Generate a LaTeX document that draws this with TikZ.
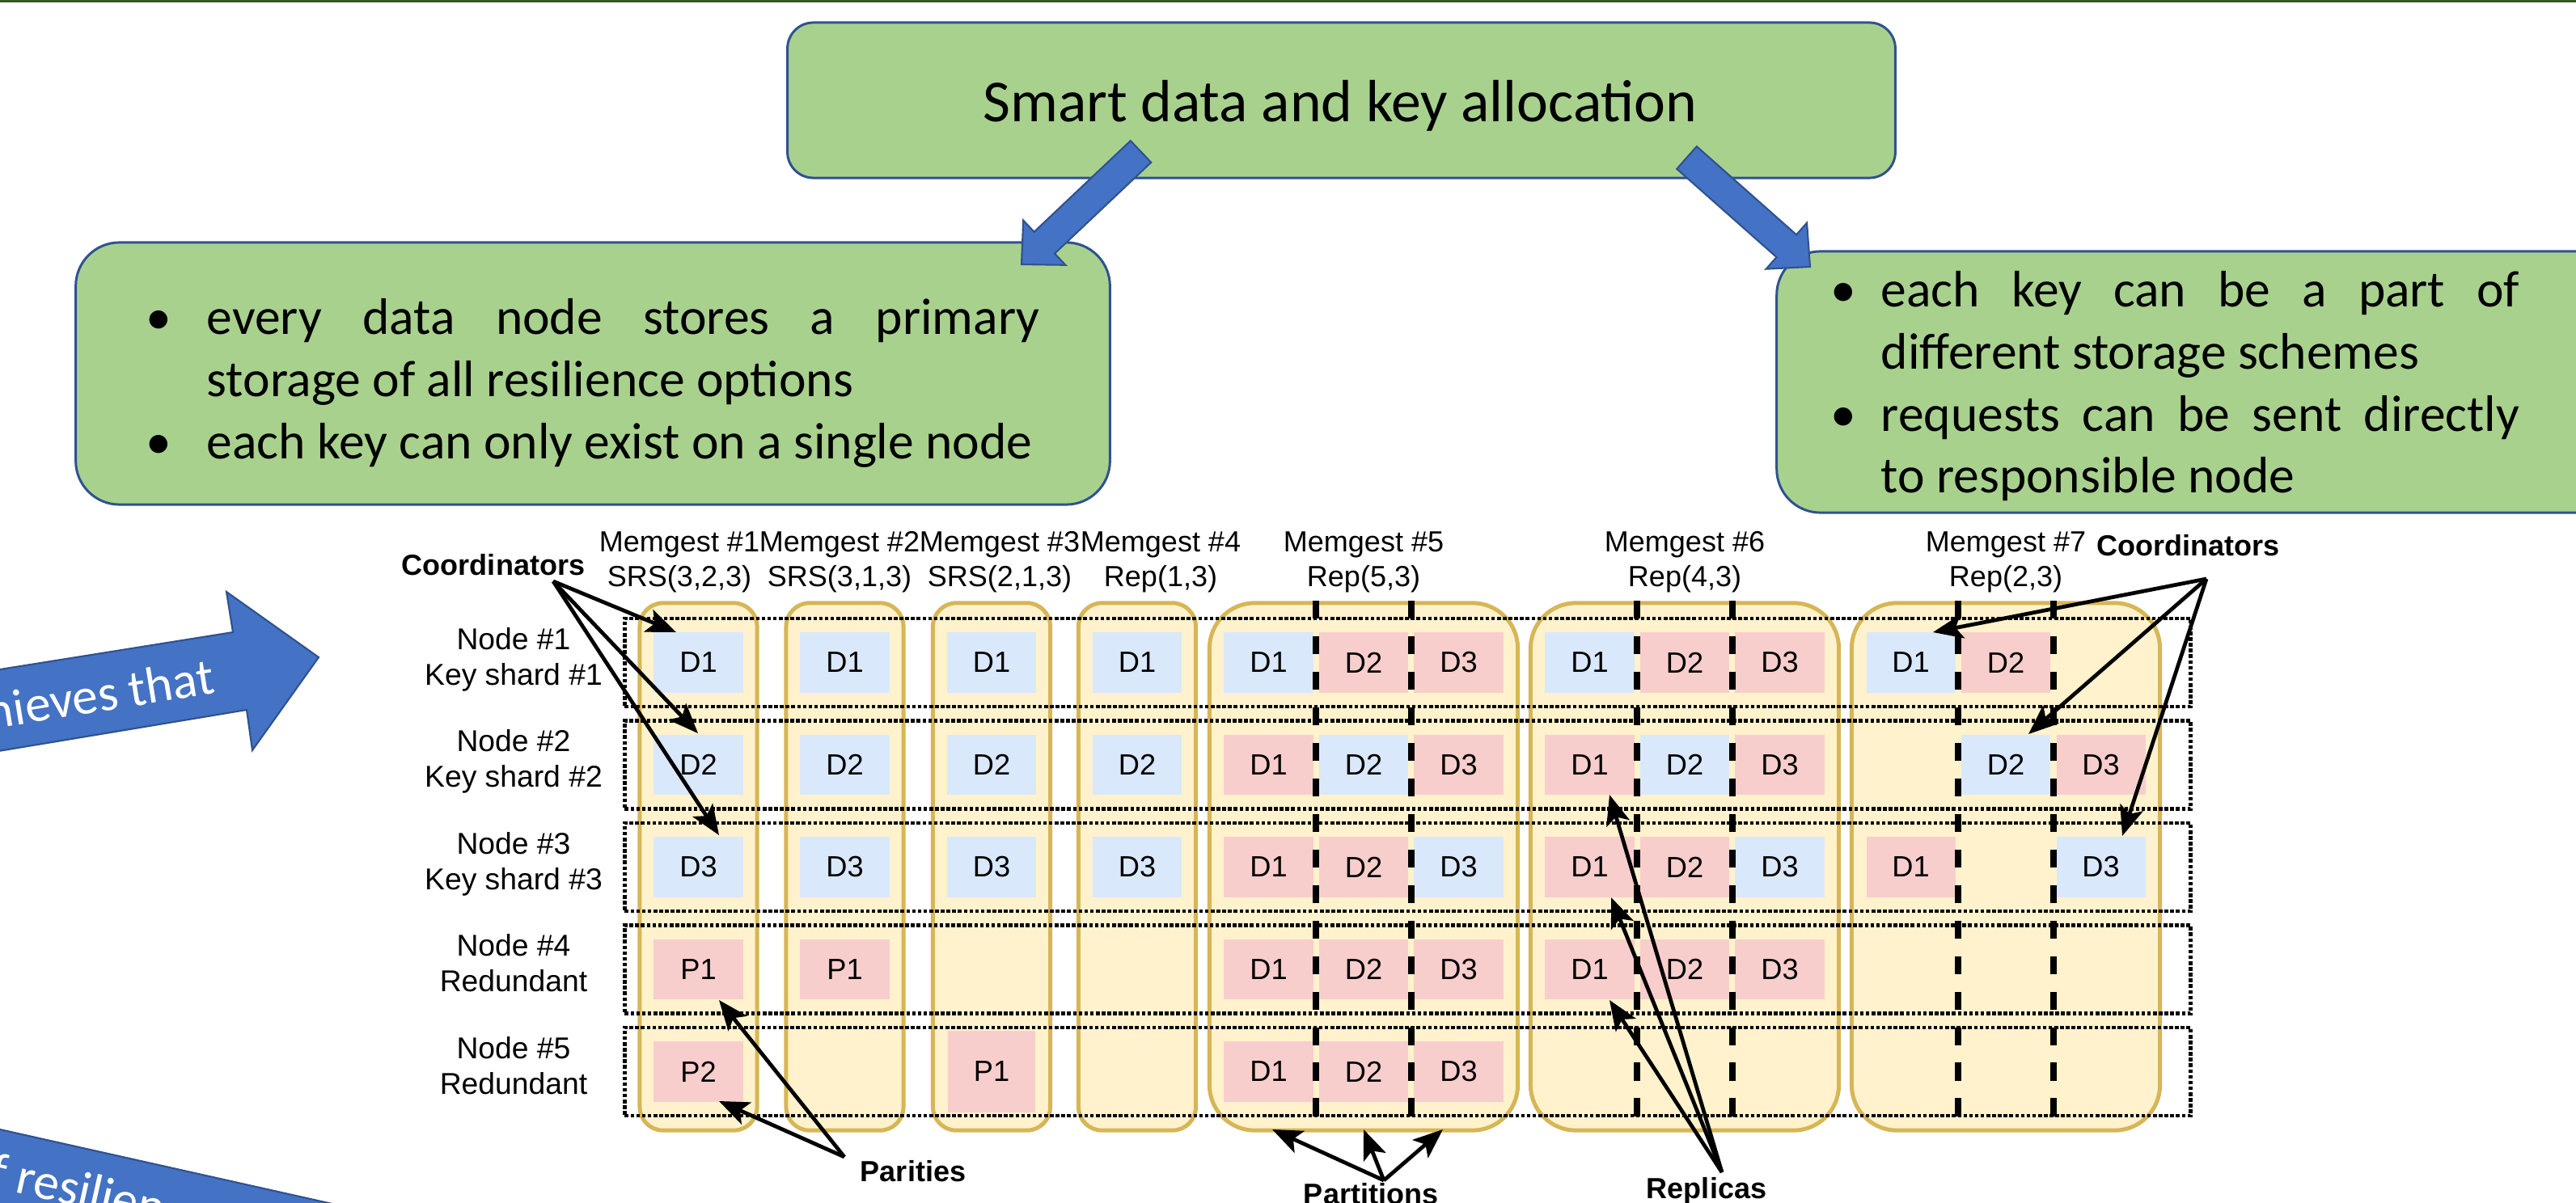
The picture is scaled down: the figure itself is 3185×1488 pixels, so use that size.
\documentclass[tikz,border=0pt]{standalone}
\usepackage{fontspec}
\setmainfont{Carlito}
\newfontfamily\helv{Liberation Sans}
\usetikzlibrary{arrows.meta}
\definecolor{topgreen}{HTML}{385723}
\definecolor{boxgreen}{HTML}{A9D18E}
\definecolor{boxborder}{HTML}{2F528F}
\definecolor{arrowblue}{HTML}{4472C4}
\definecolor{arrowborder}{HTML}{2F528F}
\definecolor{colfill}{HTML}{FFF2CC}
\definecolor{colborder}{HTML}{D6B656}
\definecolor{cellblue}{HTML}{DAE8FC}
\definecolor{cellred}{HTML}{F8CECC}
\newcommand{\titlefnt}{\fontsize{20.97pt}{25pt}\selectfont}
\newcommand{\bodyfnt}{\fontsize{18.07pt}{21.9pt}\selectfont}
\newcommand{\tabfnt}{\helv\fontsize{10.24pt}{12.3pt}\selectfont}
\newcommand{\rowfnt}{\helv\fontsize{10.6pt}{12.5pt}\selectfont}
\newcommand{\tabbold}{\helv\bfseries\fontsize{10.24pt}{12.3pt}\selectfont}
\newcommand{\cellfnt}{\helv\fontsize{10.3pt}{12pt}\selectfont}
\begin{document}
\begin{tikzpicture}[x=0.01cm,y=0.01cm,
  gbox/.style={draw=boxborder, line width=0.85pt, fill=boxgreen, inner sep=0pt},
  barrow/.style={draw=arrowborder, line width=0.6pt, fill=arrowblue},
  memcol/.style={draw=colborder, fill=colfill, line width=1.42pt, inner sep=0pt, minimum height=6.52cm},
  narrowcol/.style={memcol, minimum width=1.45cm, rounded corners=0.29cm},
  widecol/.style={memcol, minimum width=3.81cm, rounded corners=0.56cm},
  rowbox/.style={draw=black, line width=1.35pt, dash pattern=on 1.3pt off 0.72pt, minimum width=19.35cm, minimum height=1.09cm, inner sep=0pt},
  vdash/.style={draw=black, line width=2.3pt, dash pattern=on 6.3pt off 6.2pt},
  cellb/.style={fill=cellblue, minimum width=1.10cm, minimum height=0.74cm, inner sep=0pt, font=\cellfnt},
  cellr/.style={cellb, fill=cellred},
  lab/.style={anchor=base, inner sep=0pt, font=\tabfnt},
  rlab/.style={anchor=base, inner sep=0pt, font=\rowfnt},
  blab/.style={anchor=base, inner sep=0pt, font=\tabbold},
  btxt/.style={anchor=base west, inner sep=0pt, font=\bodyfnt},
  conn/.style={draw=black, line width=1.35pt, -{Stealth[length=10.5pt,width=8.4pt,inset=2.4pt]}}
]
\useasboundingbox (0,0) rectangle (3185,-1488);
\begin{scope}
\clip (0,0) rectangle (3185,-1488);

% top rule
\fill[topgreen] (0,0) rectangle (3185,-3.5);

% green boxes
\node[gbox, rounded corners=0.32cm, minimum width=13.69cm, minimum height=1.92cm] (topbox) at (1658.5,-124) {};
\node[anchor=base, inner sep=0pt, font=\titlefnt] (title) at (1657,-150) {Smart data and key allocation};

\node[gbox, rounded corners=0.54cm, minimum width=12.78cm, minimum height=3.24cm] (leftbox) at (733,-462) {};
\node[btxt] (lb1) at (180,-413) {•};
\node[btxt] (l1) at (255,-413) {\makebox[10.29cm][s]{every data node stores a primary}};
\node[btxt] (l2) at (255,-490) {storage of all resilience options};
\node[btxt] (lb2) at (180,-567) {•};
\node[btxt] (l3) at (255,-567) {each key can only exist on a single node};

\node[gbox, rounded corners=0.54cm, minimum width=10.63cm, minimum height=3.23cm] (rightbox) at (2728.5,-472.5) {};
\node[btxt] (rb1) at (2263,-379) {•};
\node[btxt] (r1) at (2325,-379) {\makebox[7.89cm][s]{each key can be a part of}};
\node[btxt] (r2) at (2325,-456) {different storage schemes};
\node[btxt] (rb2) at (2263,-533) {•};
\node[btxt] (r3) at (2325,-533) {\makebox[7.89cm][s]{requests can be sent directly}};
\node[btxt] (r4) at (2325,-609) {to responsible node};

% block arrows from top box
\filldraw[barrow] (1397.8,-174.1) -- (1278.6,-286.8) -- (1265.2,-272.6) -- (1263,-327) -- (1317.4,-327.8) -- (1304,-313.6) -- (1423.2,-200.9) -- cycle;
\filldraw[barrow] (2097.8,-181.1) -- (2221,-290.3) -- (2234,-275.7) -- (2238,-330) -- (2183.6,-332.7) -- (2196.5,-318.1) -- (2073.2,-208.9) -- cycle;

% left big arrows
\filldraw[barrow] (-50,-836) -- (288,-782) -- (280,-732) -- (394,-813) -- (312,-928) -- (305,-878) -- (-50,-937) -- cycle;
\node[anchor=base east, inner sep=0pt, font=\bodyfnt, text=white, rotate=9.2] (ach) at (268,-857) {achieves that};
\filldraw[barrow] (-60,-1383.6) -- (500,-1509) -- (500,-1600) -- (-60,-1600) -- cycle;
\node[anchor=base west, inner sep=0pt, font=\bodyfnt, text=white, rotate=-12.6] (res) at (-49,-1460) {of resilience};

% memgest columns
\node[narrowcol] (m1) at (863.5,-1072) {};
\node[narrowcol] (m2) at (1044.5,-1072) {};
\node[narrowcol] (m3) at (1226,-1072) {};
\node[narrowcol] (m4) at (1406,-1072) {};
\node[widecol] (m5) at (1686,-1072) {};
\node[widecol] (m6) at (2083,-1072) {};
\node[widecol] (m7) at (2480,-1072) {};

% node rows
\node[rowbox] (row1) at (1740.5,-819.5) {};
\node[rowbox] (row2) at (1740.5,-946) {};
\node[rowbox] (row3) at (1740.5,-1072.5) {};
\node[rowbox] (row4) at (1740.5,-1199) {};
\node[rowbox] (row5) at (1740.5,-1325.5) {};

% cells col 1-4
\node[cellb] (a1) at (863.5,-819.5) {D1};
\node[cellb] (a2) at (863.5,-946) {D2};
\node[cellb] (a3) at (863.5,-1072.5) {D3};
\node[cellr] (a4) at (863.5,-1199) {P1};
\node[cellr] (a5) at (863.5,-1325.5) {P2};
\node[cellb] (b1) at (1044.5,-819.5) {D1};
\node[cellb] (b2) at (1044.5,-946) {D2};
\node[cellb] (b3) at (1044.5,-1072.5) {D3};
\node[cellr] (b4) at (1044.5,-1199) {P1};
\node[cellb] (c1) at (1226,-819.5) {D1};
\node[cellb] (c2) at (1226,-946) {D2};
\node[cellb] (c3) at (1226,-1072.5) {D3};
\node[cellr, minimum width=1.08cm, minimum height=1.01cm] (c5) at (1226,-1325.5) {P1};
\node[cellb] (d1) at (1406,-819.5) {D1};
\node[cellb] (d2) at (1406,-946) {D2};
\node[cellb] (d3) at (1406,-1072.5) {D3};

% col 5
\node[cellb] (e11) at (1568.5,-819.5) {D1};
\node[cellr] (e12) at (1686,-819.5) {D2};
\node[cellr] (e13) at (1803.5,-819.5) {D3};
\node[cellr] (e21) at (1568.5,-946) {D1};
\node[cellb] (e22) at (1686,-946) {D2};
\node[cellr] (e23) at (1803.5,-946) {D3};
\node[cellr] (e31) at (1568.5,-1072.5) {D1};
\node[cellr] (e32) at (1686,-1072.5) {D2};
\node[cellb] (e33) at (1803.5,-1072.5) {D3};
\node[cellr] (e41) at (1568.5,-1199) {D1};
\node[cellr] (e42) at (1686,-1199) {D2};
\node[cellr] (e43) at (1803.5,-1199) {D3};
\node[cellr] (e51) at (1568.5,-1325.5) {D1};
\node[cellr] (e52) at (1686,-1325.5) {D2};
\node[cellr] (e53) at (1803.5,-1325.5) {D3};
% col 6
\node[cellb] (f11) at (1965.5,-819.5) {D1};
\node[cellr] (f12) at (2083,-819.5) {D2};
\node[cellr] (f13) at (2200.5,-819.5) {D3};
\node[cellr] (f21) at (1965.5,-946) {D1};
\node[cellb] (f22) at (2083,-946) {D2};
\node[cellr] (f23) at (2200.5,-946) {D3};
\node[cellr] (f31) at (1965.5,-1072.5) {D1};
\node[cellr] (f32) at (2083,-1072.5) {D2};
\node[cellb] (f33) at (2200.5,-1072.5) {D3};
\node[cellr] (f41) at (1965.5,-1199) {D1};
\node[cellr] (f42) at (2083,-1199) {D2};
\node[cellr] (f43) at (2200.5,-1199) {D3};
% col 7
\node[cellb] (g11) at (2362.5,-819.5) {D1};
\node[cellr] (g12) at (2480,-819.5) {D2};
\node[cellb] (g22) at (2480,-946) {D2};
\node[cellr] (g23) at (2597.5,-946) {D3};
\node[cellr] (g31) at (2362.5,-1072.5) {D1};
\node[cellb] (g33) at (2597.5,-1072.5) {D3};

% partition separators
\draw[vdash] (1627,-743) -- (1627,-1402);
\draw[vdash] (1745,-743) -- (1745,-1402);
\draw[vdash] (2024,-743) -- (2024,-1402);
\draw[vdash] (2142,-743) -- (2142,-1402);
\draw[vdash] (2421,-743) -- (2421,-1402);
\draw[vdash] (2539,-743) -- (2539,-1402);

% headers
\node[lab] (h1a) at (840,-682) {Memgest \#1};
\node[lab] (h1b) at (840,-725) {SRS(3,2,3)};
\node[lab] (h2a) at (1038,-682) {Memgest \#2};
\node[lab] (h2b) at (1038,-725) {SRS(3,1,3)};
\node[lab] (h3a) at (1236,-682) {Memgest \#3};
\node[lab] (h3b) at (1236,-725) {SRS(2,1,3)};
\node[lab] (h4a) at (1435,-682) {Memgest \#4};
\node[lab] (h4b) at (1435,-725) {Rep(1,3)};
\node[lab] (h5a) at (1686,-682) {Memgest \#5};
\node[lab] (h5b) at (1686,-725) {Rep(5,3)};
\node[lab] (h6a) at (2083,-682) {Memgest \#6};
\node[lab] (h6b) at (2083,-725) {Rep(4,3)};
\node[lab] (h7a) at (2480,-682) {Memgest \#7};
\node[lab] (h7b) at (2480,-725) {Rep(2,3)};

% row labels
\node[rlab] (n1a) at (635,-803) {Node \#1};
\node[rlab] (n1b) at (635,-847) {Key shard \#1};
\node[rlab] (n2a) at (635,-929.5) {Node \#2};
\node[rlab] (n2b) at (635,-973.5) {Key shard \#2};
\node[rlab] (n3a) at (635,-1056) {Node \#3};
\node[rlab] (n3b) at (635,-1100) {Key shard \#3};
\node[rlab] (n4a) at (635,-1182.5) {Node \#4};
\node[rlab] (n4b) at (635,-1226.5) {Redundant};
\node[rlab] (n5a) at (635,-1309) {Node \#5};
\node[rlab] (n5b) at (635,-1353) {Redundant};

% annotation labels
\node[blab] (coordl) at (610,-711) {Coordinators};
\node[blab] (coordr) at (2705,-687.5) {Coordinators};
\node[blab] (parities) at (1129,-1461.6) {Parities};
\node[blab] (partitions) at (1695,-1489) {Partitions};
\node[blab] (replicas) at (2110,-1482) {Replicas};

\coordinate (cl) at (684,-719);
\coordinate (cr) at (2728,-716);
\coordinate (cp) at (1044,-1431);
\coordinate (ct) at (1711,-1460);
\coordinate (crep) at (2129,-1450);

\coordinate (tl1) at (836,-782);
\coordinate (tl2) at (863,-907);
\coordinate (tl3) at (889,-1033);
\coordinate (tr1) at (2390,-782);
\coordinate (tr2) at (2508,-908);
\coordinate (tr3) at (2624,-1034);
\coordinate (tp1) at (889,-1237);
\coordinate (tp2) at (889,-1362);
\coordinate (tt1) at (1573,-1397);
\coordinate (tt2) at (1686,-1397);
\coordinate (tt3) at (1784,-1397);
\coordinate (trp1) at (1990,-983);
\coordinate (trp2) at (1992,-1110);
\coordinate (trp3) at (1990,-1237);

\draw[conn] (cl) -- (tl1);
\draw[conn] (cl) -- (tl2);
\draw[conn] (cl) -- (tl3);
\draw[conn] (cr) -- (tr1);
\draw[conn] (cr) -- (tr2);
\draw[conn] (cr) -- (tr3);
\draw[conn] (cp) -- (tp1);
\draw[conn] (cp) -- (tp2);
\draw[conn] (ct) -- (tt1);
\draw[conn] (ct) -- (tt2);
\draw[conn] (ct) -- (tt3);
\draw[conn] (crep) -- (trp1);
\draw[conn] (crep) -- (trp2);
\draw[conn] (crep) -- (trp3);
\end{scope}
\end{tikzpicture}
\end{document}
